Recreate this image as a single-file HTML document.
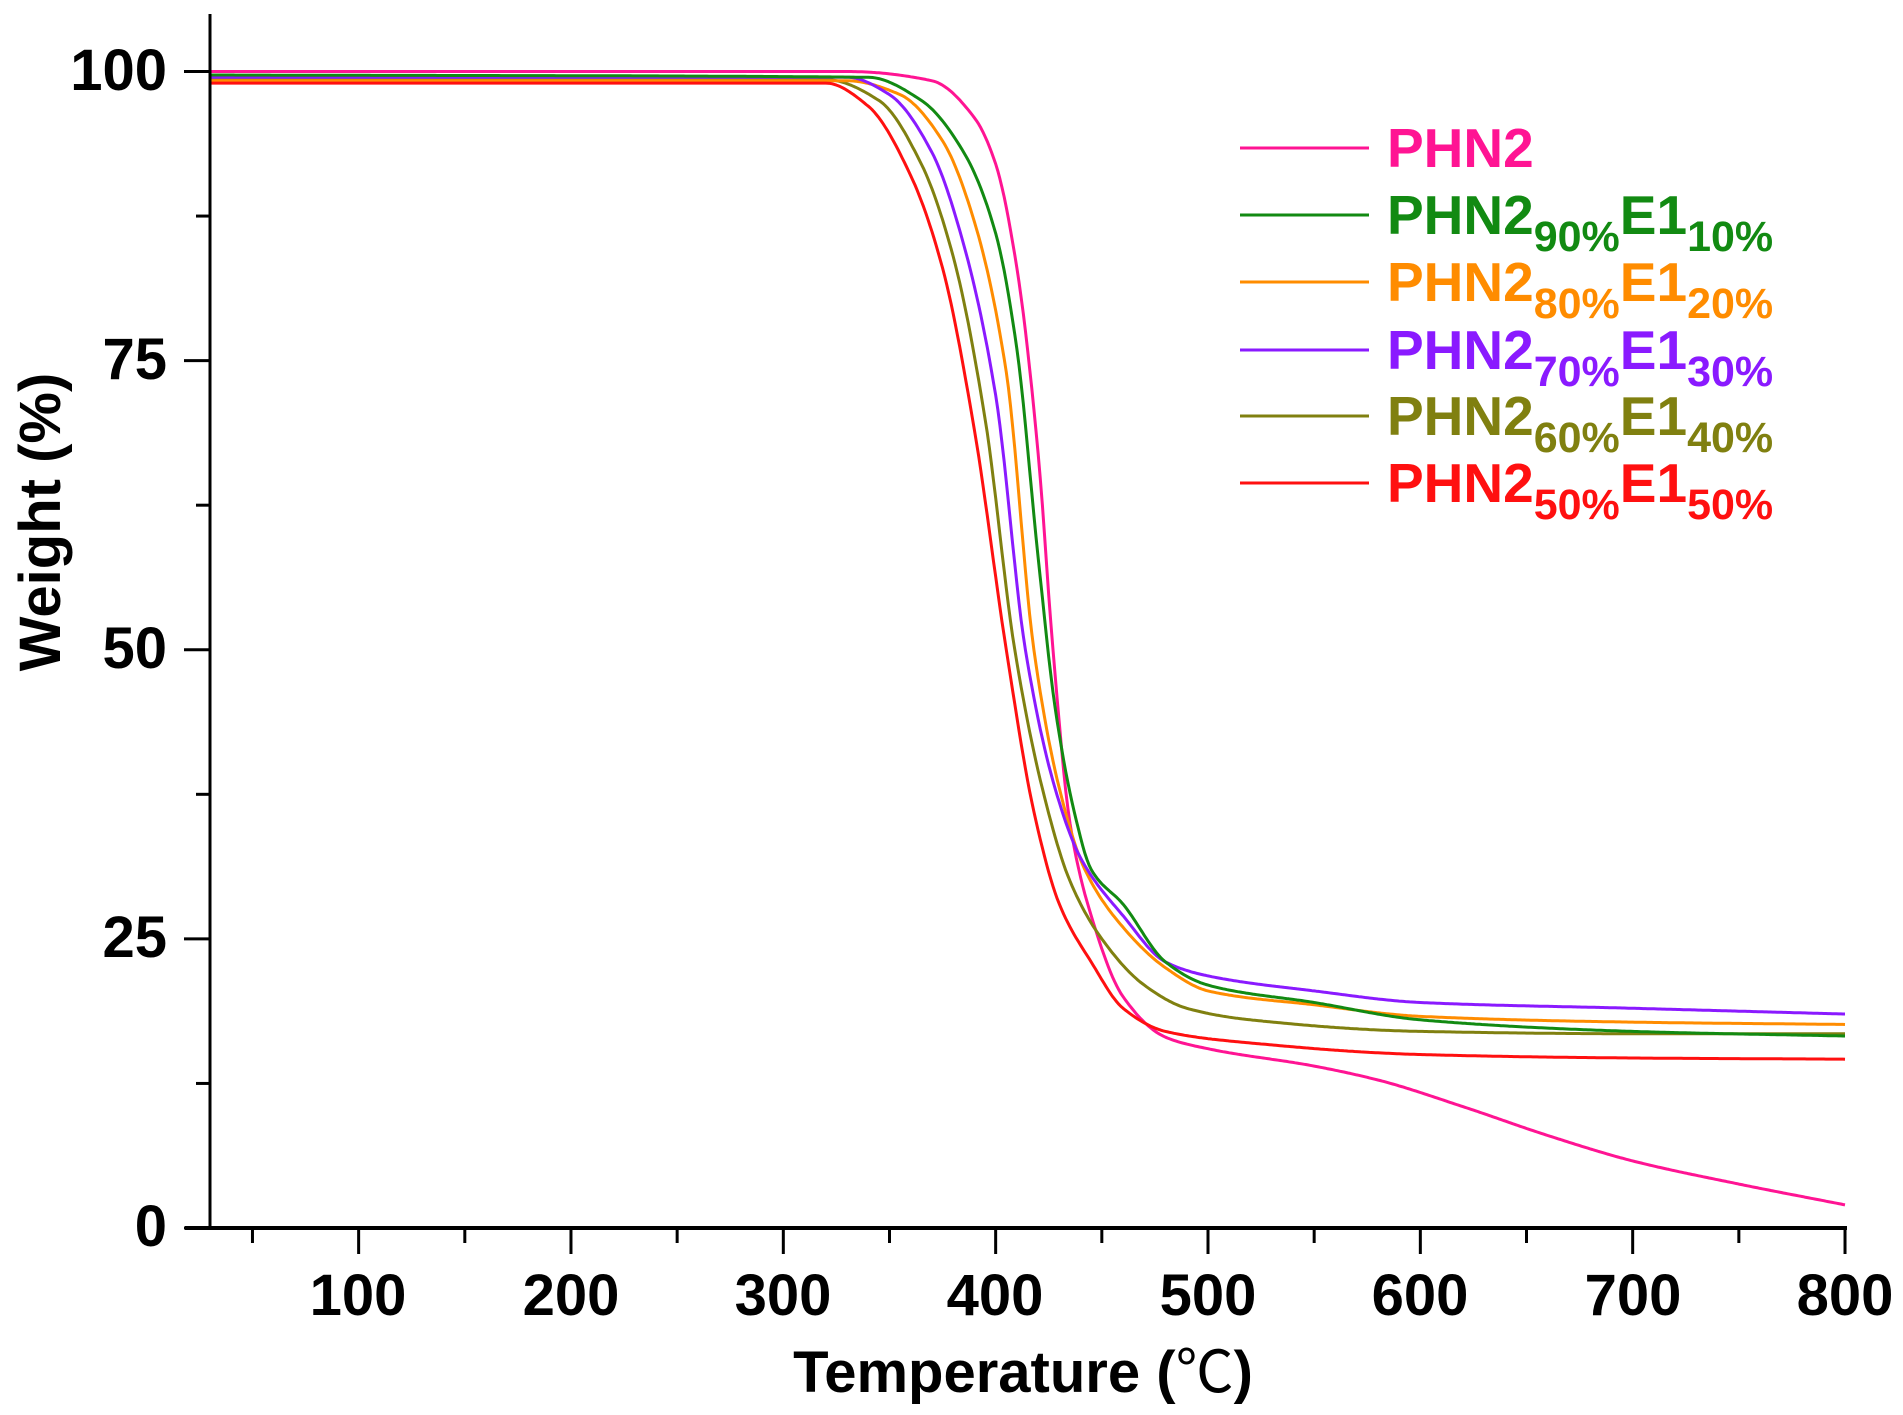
<!DOCTYPE html>
<html><head><meta charset="utf-8"><style>
html,body{margin:0;padding:0;background:#fff}
svg{display:block}
text{font-family:"Liberation Sans",Arial,sans-serif;font-weight:bold}
</style></head><body>
<svg id="s" width="1903" height="1415" viewBox="0 0 1903 1415" xmlns="http://www.w3.org/2000/svg">
<g id="curves" fill="none" stroke-width="3" stroke-linejoin="round"></g>
<line x1="210" y1="14" x2="210" y2="1229" stroke="#000" stroke-width="3"/>
<line x1="185" y1="1228" x2="1847" y2="1228" stroke="#000" stroke-width="4"/>
<g id="ticks" stroke="#000" stroke-width="3"></g>
<g font-size="58" fill="#000">
<text x="167" y="90" text-anchor="end">100</text>
<text x="167" y="379" text-anchor="end">75</text>
<text x="167" y="668" text-anchor="end">50</text>
<text x="167" y="957" text-anchor="end">25</text>
<text x="167" y="1246" text-anchor="end">0</text>
<g text-anchor="middle">
<text x="358" y="1315">100</text><text x="571" y="1315">200</text><text x="783" y="1315">300</text><text x="995" y="1315">400</text>
<text x="1208" y="1315">500</text><text x="1420" y="1315">600</text><text x="1633" y="1315">700</text><text x="1845" y="1315">800</text>
</g>
<text x="1023" y="1392" text-anchor="middle">Temperature (<tspan font-family="'Noto Sans CJK SC',sans-serif" font-weight="normal">℃</tspan>)</text>
<text transform="translate(60,522) rotate(-90)" text-anchor="middle">Weight (%)</text>
</g>
<g font-size="55" stroke-width="3">
<line x1="1240" y1="148" x2="1369" y2="148" stroke="#ff1493"/>
<text x="1387" y="167" fill="#ff1493">PHN2</text>
<line x1="1240" y1="215" x2="1369" y2="215" stroke="#128a12"/>
<text x="1387" y="234" fill="#128a12">PHN2<tspan font-size="43" dy="17">90%</tspan><tspan dy="-17">E1</tspan><tspan font-size="43" dy="17">10%</tspan></text>
<line x1="1240" y1="282" x2="1369" y2="282" stroke="#ff8c00"/>
<text x="1387" y="301" fill="#ff8c00">PHN2<tspan font-size="43" dy="17">80%</tspan><tspan dy="-17">E1</tspan><tspan font-size="43" dy="17">20%</tspan></text>
<line x1="1240" y1="350" x2="1369" y2="350" stroke="#8a1aff"/>
<text x="1387" y="369" fill="#8a1aff">PHN2<tspan font-size="43" dy="17">70%</tspan><tspan dy="-17">E1</tspan><tspan font-size="43" dy="17">30%</tspan></text>
<line x1="1240" y1="416" x2="1369" y2="416" stroke="#808010"/>
<text x="1387" y="435" fill="#808010">PHN2<tspan font-size="43" dy="17">60%</tspan><tspan dy="-17">E1</tspan><tspan font-size="43" dy="17">40%</tspan></text>
<line x1="1240" y1="483" x2="1369" y2="483" stroke="#ff1010"/>
<text x="1387" y="502" fill="#ff1010">PHN2<tspan font-size="43" dy="17">50%</tspan><tspan dy="-17">E1</tspan><tspan font-size="43" dy="17">50%</tspan></text>
</g>
</svg>
<script>
const X=t=>210+(t-30)*2.1234, Y=w=>1228-w*11.565;
const ns="http://www.w3.org/2000/svg";
const tk=document.getElementById('ticks');
function ln(a,b,c,d){const l=document.createElementNS(ns,'line');l.setAttribute('x1',a);l.setAttribute('y1',b);l.setAttribute('x2',c);l.setAttribute('y2',d);tk.appendChild(l);}
for(let w=0;w<=100;w+=12.5){const y=Y(w);ln(w%25==0?184:196,y,210,y);}
for(let t=50;t<=800;t+=50){const x=X(t);ln(x,1228,x,t%100==0?1254:1243);}
const S=[
["#ff1493",[[30,100],[330,100],[370,99.2],[390,96],[400,92],[410,83],[420,67],[427,50],[435,35],[445,27],[460,20],[480,16.5],[500,15.5],[550,14],[580,12.8],[620,10.5],[660,8],[700,5.8],[750,3.8],[800,2]]],
["#808010",[[30,99.3],[320,99.3],[345,97.5],[365,92],[380,84],[395,70],[409,50],[422,38],[435,30],[450,25],[470,21],[490,19],[520,18],[600,17],[700,16.8],[800,16.8]]],
["#ff8c00",[[30,99.2],[330,99.2],[355,98],[375,94],[390,87],[405,74],[418,50],[430,38],[442,31],[460,26],[480,22.5],[500,20.5],[550,19.3],[600,18.3],[700,17.8],[800,17.6]]],
["#8a1aff",[[30,99.5],[330,99.5],[350,98],[370,93],[385,85],[400,72],[414,50],[428,38],[440,32],[460,27],[480,23],[500,21.8],[550,20.5],[600,19.5],[700,19],[800,18.5]]],
["#128a12",[[30,99.7],[340,99.5],[365,97.5],[385,93],[400,86],[410,76],[420,58],[428,45],[437,36],[445,31],[460,28],[480,23],[500,21],[550,19.5],[600,18],[700,17],[800,16.6]]],
["#ff1010",[[30,99],[320,99],[340,97],[360,91],[375,83],[390,69],[405,50],[418,36],[430,28],[445,23],[460,19],[480,17],[520,16],[600,15],[700,14.7],[800,14.6]]]
];
function mono(pts){
 const n=pts.length,x=pts.map(p=>p[0]),y=pts.map(p=>p[1]);
 const d=[],m=new Array(n);
 for(let i=0;i<n-1;i++)d.push((y[i+1]-y[i])/(x[i+1]-x[i]));
 m[0]=d[0];m[n-1]=d[n-2];
 for(let i=1;i<n-1;i++){ if(d[i-1]*d[i]<=0)m[i]=0; else { const w1=2*(x[i+1]-x[i])+(x[i]-x[i-1]), w2=(x[i+1]-x[i])+2*(x[i]-x[i-1]); m[i]=(w1+w2)/(w1/d[i-1]+w2/d[i]); } }
 return t=>{let i=0;while(i<n-2&&t>x[i+1])i++;const h=x[i+1]-x[i],s=(t-x[i])/h;
  const h00=2*s*s*s-3*s*s+1,h10=s*s*s-2*s*s+s,h01=-2*s*s*s+3*s*s,h11=s*s*s-s*s;
  return h00*y[i]+h10*h*m[i]+h01*y[i+1]+h11*h*m[i+1];};
}
const g=document.getElementById('curves');
for(const [c,pts] of S){
 const f=mono(pts);let d="";
 for(let t=30;t<=800;t+=1){d+=(t==30?"M":"L")+X(t).toFixed(1)+","+Y(f(t)).toFixed(1);}
 const e=document.createElementNS(ns,'path');e.setAttribute('d',d);e.setAttribute('stroke',c);g.appendChild(e);
}
</script>
</body></html>
